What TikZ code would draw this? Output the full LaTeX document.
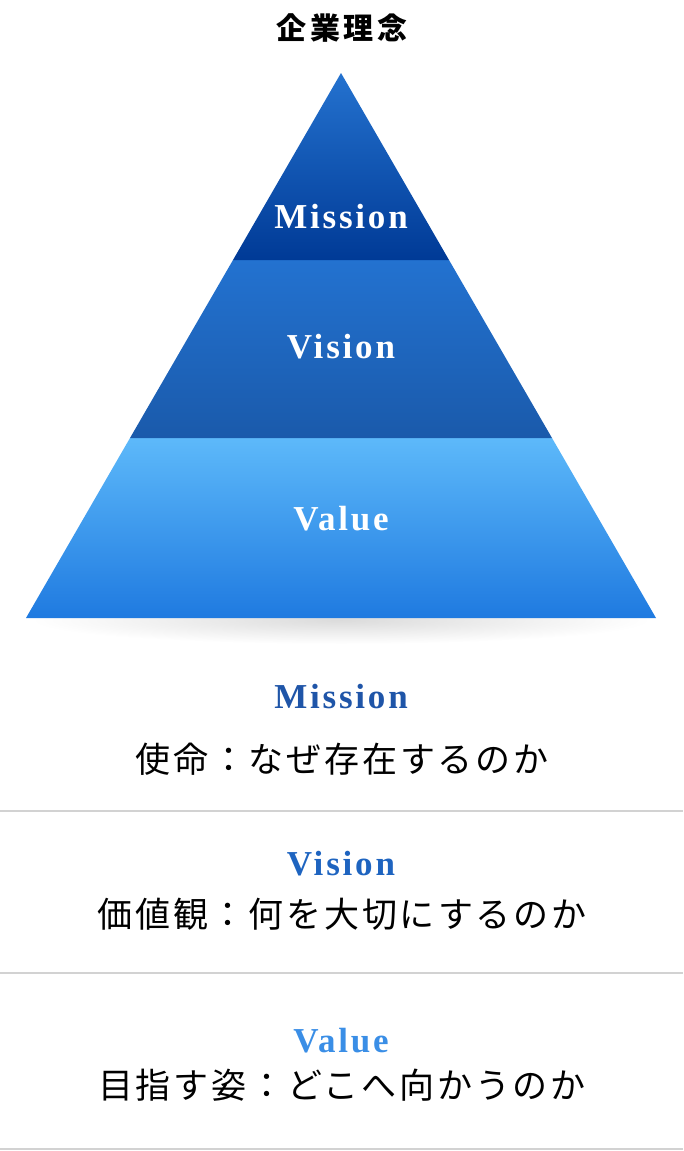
\documentclass[tikz,border=0pt]{standalone}
\usepackage{fontspec}
\setmainfont{Liberation Serif}
\newfontfamily\jp{Noto Sans CJK JP}
\newfontfamily\jpsp[LetterSpace=8]{Noto Sans CJK JP}
\newfontfamily\jptitle[LetterSpace=12]{Noto Sans CJK JP}
\newfontfamily\lbl[LetterSpace=8]{Liberation Serif}
\definecolor{mtop}{HTML}{2472CF}
\definecolor{mbot}{HTML}{003A96}
\definecolor{vtop}{HTML}{2372D0}
\definecolor{vbot}{HTML}{1A5AAB}
\definecolor{ltop}{HTML}{5DB9FA}
\definecolor{lbot}{HTML}{1F7AE0}
\definecolor{cm}{HTML}{1F55A8}
\definecolor{cv}{HTML}{1E64C0}
\definecolor{cl}{HTML}{3A8EE6}
\definecolor{sep}{HTML}{D2D2D2}
\tikzset{
  pyrlabel/.style={anchor=base, text=white, font={\lbl\bfseries\fontsize{35}{40}\selectfont}, inner sep=0pt},
  headlabel/.style={anchor=base, font={\lbl\bfseries\fontsize{35}{40}\selectfont}, inner sep=0pt},
  jpline/.style={anchor=center, text=black, font={\jpsp\fontsize{35}{40}\selectfont}, inner sep=0pt},
  sepline/.style={draw=sep, line width=2pt}
}
\begin{document}
\begin{tikzpicture}[x=1pt, y=-1pt]
\useasboundingbox (0,0) rectangle (683,1151);
% shadow
\begin{scope}
\clip (0,618) rectangle (683,680);
\shade[inner color=black!14, outer color=white] (341,620) ellipse [x radius=310, y radius=24];
\end{scope}
% pyramid
\coordinate (apex) at (341,73);
\coordinate (m1) at (233,260);
\coordinate (m2) at (449,260);
\coordinate (v1) at (130,438);
\coordinate (v2) at (552,438);
\coordinate (b1) at (26,618);
\coordinate (b2) at (656,618);
\shade[top color=ltop, bottom color=lbot] (v1) -- (v2) -- (b2) -- (b1) -- cycle;
\shade[top color=vtop, bottom color=vbot] (m1) -- (m2) -- (v2) -- (v1) -- cycle;
\shade[top color=mtop, bottom color=mbot] (apex) -- (m2) -- (m1) -- cycle;
\node[pyrlabel] (pm) at (341,228) {Mission};
\node[pyrlabel] (pv) at (341,358) {Vision};
\node[pyrlabel] (pl) at (341,530) {Value};
% title
\node[anchor=center, font={\jptitle\bfseries\fontsize{30}{34}\selectfont}, inner sep=0pt] (title) at (342,28) {企業理念};
% descriptions
\node[headlabel, text=cm] (hm) at (341,708) {Mission};
\node[jpline] (jm) at (342,759) {使命：なぜ存在するのか};
\coordinate (s1a) at (0,811); \coordinate (s1b) at (683,811);
\draw[sepline] (s1a) -- (s1b);
\node[headlabel, text=cv] (hv) at (341,875) {Vision};
\node[jpline] (jv) at (342,914) {価値観：何を大切にするのか};
\coordinate (s2a) at (0,973); \coordinate (s2b) at (683,973);
\draw[sepline] (s2a) -- (s2b);
\node[headlabel, text=cl] (hl) at (341,1052) {Value};
\node[jpline] (jl) at (342,1085) {目指す姿：どこへ向かうのか};
\coordinate (s3a) at (0,1149); \coordinate (s3b) at (683,1149);
\draw[sepline] (s3a) -- (s3b);
\end{tikzpicture}
\end{document}
